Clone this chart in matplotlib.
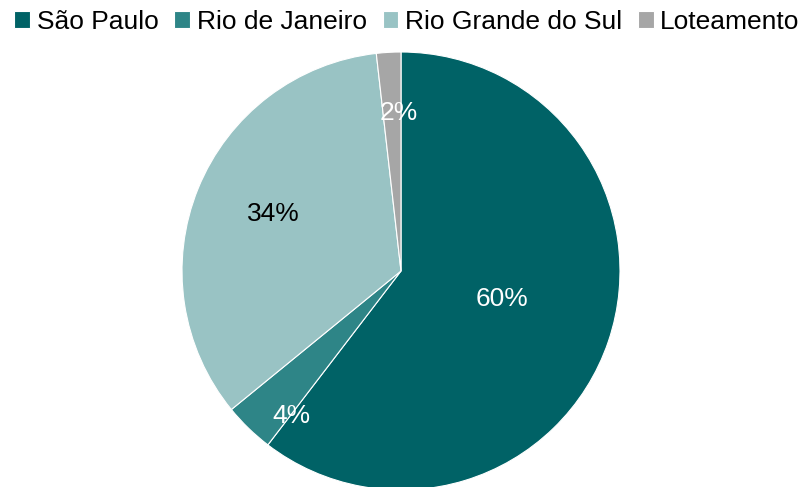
import matplotlib.pyplot as plt
import numpy as np

plt.rcParams['font.family'] = ['Liberation Sans', 'DejaVu Sans']

regioes = ['São Paulo', 'Rio de Janeiro', 'Rio Grande do Sul', 'Loteamento']
valores = [60.4, 3.7, 34.1, 1.8]
rotulos = ['60%', '4%', '34%', '2%']
cores = ['#006266', '#2e8587', '#99c3c4', '#a6a6a6']
cor_texto = ['white', 'white', 'black', 'white']
# distancia do rotulo (fracao do raio) e desvio angular em graus
dist_rotulo = [0.48, 0.83, 0.64, 0.72]
desvio_rotulo = [3, 7, -2, -2.5]

fig = plt.figure(figsize=(8.06, 4.87), dpi=100)
# pizza centrada em (401, 271) px, raio 219 px
ax = fig.add_axes([(401 - 219) / 806, (487 - 271 - 219) / 487, 438 / 806, 438 / 487])
wedges, _ = ax.pie(valores, colors=cores, startangle=90, counterclock=False,
                   wedgeprops=dict(edgecolor='white', linewidth=0.8))
ax.set_aspect('equal')
ax.set_xlim(-1, 1)
ax.set_ylim(-1, 1)

for w, txt, c, d, dv in zip(wedges, rotulos, cor_texto, dist_rotulo, desvio_rotulo):
    ang = np.deg2rad((w.theta1 + w.theta2) / 2 + dv)
    ax.text(d * np.cos(ang), d * np.sin(ang), txt, ha='center', va='center',
            fontsize=19, color=c)

fig.legend(wedges, regioes, loc='center', bbox_to_anchor=(407 / 806, 1 - 22 / 487), ncol=4,
           frameon=False, fontsize=19, handlelength=0.6, handleheight=0.6,
           handletextpad=0.25, columnspacing=0.6, borderaxespad=0)

fig.savefig('out.png', dpi=100)
